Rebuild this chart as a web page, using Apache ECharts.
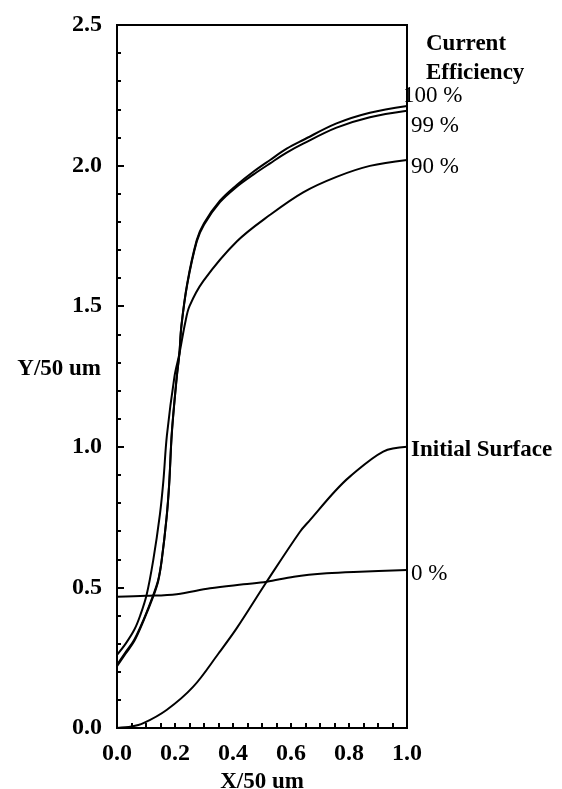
<!DOCTYPE html>
<html lang="en">
<head>
    <meta charset="UTF-8">
    <title>Current Efficiency</title>
    <style>
        body { margin: 0; background: #fff; }
        #chart { width: 562px; height: 789px; }
    </style>
</head>
<body>
    <div id="chart"></div>

    <script src="https://cdn.jsdelivr.net/npm/echarts@6/dist/echarts.min.js"></script>
    <script>
        // profiles (X/50 um, Y/50 um)
        var x100 = [0, 0.03, 0.059, 0.091, 0.125, 0.142, 0.154, 0.171, 0.18, 0.189, 0.206, 0.215, 0.222, 0.242, 0.275, 0.3, 0.355, 0.413, 0.47, 0.528, 0.585, 0.642, 0.757, 0.872, 1.0];
        var y100 = [0.225, 0.27, 0.313, 0.384, 0.473, 0.526, 0.597, 0.75, 0.87, 1.05, 1.249, 1.33, 1.43, 1.58, 1.735, 1.795, 1.875, 1.931, 1.978, 2.02, 2.06, 2.091, 2.15, 2.188, 2.212];

        var x99 = [0, 0.03, 0.059, 0.091, 0.125, 0.142, 0.154, 0.171, 0.18, 0.189, 0.206, 0.215, 0.222, 0.242, 0.275, 0.3, 0.355, 0.413, 0.47, 0.528, 0.585, 0.642, 0.757, 0.872, 1.0];
        var y99 = [0.22, 0.265, 0.308, 0.38, 0.468, 0.522, 0.594, 0.747, 0.867, 1.047, 1.246, 1.33, 1.428, 1.576, 1.73, 1.79, 1.87, 1.925, 1.968, 2.008, 2.046, 2.078, 2.135, 2.172, 2.195];

        var x90 = [0, 0.03, 0.06, 0.08, 0.102, 0.125, 0.148, 0.16, 0.172, 0.198, 0.215, 0.235, 0.25, 0.298, 0.413, 0.528, 0.642, 0.757, 0.872, 1.0];
        var y90 = [0.26, 0.3, 0.35, 0.4, 0.473, 0.597, 0.76, 0.88, 1.04, 1.249, 1.33, 1.44, 1.5, 1.59, 1.73, 1.825, 1.905, 1.96, 1.999, 2.02];

        var x0 = [0, 0.1, 0.206, 0.321, 0.436, 0.516, 0.61, 0.723, 0.838, 1.0];
        var y0 = [0.467, 0.47, 0.476, 0.497, 0.511, 0.52, 0.538, 0.55, 0.556, 0.562];

        var xInit = [0, 0.05, 0.091, 0.171, 0.263, 0.35, 0.413, 0.516, 0.631, 0.666, 0.75, 0.803, 0.918, 1.0];
        var yInit = [0, 0.005, 0.017, 0.064, 0.147, 0.265, 0.355, 0.52, 0.698, 0.74, 0.84, 0.894, 0.983, 1.0];

        var names = ['100 %', '99 %', '90 %', 'Initial Surface', '0 %'];
        var labelOffsets = [[-4, -10], [4, 15], [4, 7], [4, 3], [4, 4]];
        var labelBold = [false, false, false, true, false];

        function pairs(xs, ys) {
            var out = [];
            for (let i = 0; i < xs.length; i++) {
                out.push([xs[i], ys[i]]);
            }
            return out;
        }

        var serif = 'Liberation Serif';
        var curves = [pairs(x100, y100), pairs(x99, y99), pairs(x90, y90), pairs(xInit, yInit), pairs(x0, y0)];

        var series = [];
        for (let i = 0; i < curves.length; i++) {
            series.push({
                name: names[i],
                type: 'line',
                data: curves[i],
                showSymbol: false,
                smooth: 0.35,
                lineStyle: { color: '#000', width: 2 },
                endLabel: {
                    show: true,
                    formatter: names[i],
                    distance: 0,
                    offset: labelOffsets[i],
                    color: '#000',
                    fontFamily: serif,
                    fontSize: 23,
                    fontWeight: labelBold[i] ? 'bold' : 'normal'
                },
                z: 3
            });
        }

        var myChart = echarts.init(document.getElementById('chart'));
        var option = {
            animation: false,
            backgroundColor: '#fff',
            title: {
                text: 'Current\nEfficiency',
                left: 421,
                top: 25,
                textStyle: {
                    fontFamily: serif,
                    fontSize: 23,
                    fontWeight: 'bold',
                    color: '#000',
                    lineHeight: 29
                }
            },
            grid: {
                left: 117, right: 155, top: 25, bottom: 61,
                containLabel: false,
                outerBoundsMode: 'none',
                show: true,
                borderColor: '#000',
                borderWidth: 2
            },
            xAxis: {
                type: 'value',
                min: 0, max: 1, interval: 0.2,
                name: 'X/50 um',
                nameLocation: 'middle',
                nameGap: 40,
                nameTextStyle: { fontFamily: serif, fontSize: 23, fontWeight: 'bold', color: '#000' },
                axisLine: { lineStyle: { color: '#000', width: 2 } },
                axisTick: { inside: true, length: 5, lineStyle: { color: '#000', width: 2 } },
                minorTick: { show: true, splitNumber: 4, length: 5, lineStyle: { color: '#000', width: 2 } },
                splitLine: { show: false },
                axisLabel: {
                    margin: 14,
                    fontFamily: serif, fontSize: 24, fontWeight: 'bold', color: '#000',
                    formatter: function (v) { return v.toFixed(1); }
                }
            },
            yAxis: {
                type: 'value',
                min: 0, max: 2.5, interval: 0.5,
                axisLine: { show: true, lineStyle: { color: '#000', width: 2 } },
                axisTick: { show: true, inside: true, length: 7, lineStyle: { color: '#000', width: 2 } },
                minorTick: { show: true, splitNumber: 5, length: 4, lineStyle: { color: '#000', width: 2 } },
                splitLine: { show: false },
                axisLabel: {
                    margin: 15,
                    fontFamily: serif, fontSize: 24, fontWeight: 'bold', color: '#000',
                    formatter: function (v) { return v.toFixed(1); }
                }
            },
            graphic: [{
                type: 'text',
                right: 562 - 101,
                top: 358,
                style: {
                    text: 'Y/50 um',
                    fill: '#000',
                    font: 'bold 23px "Liberation Serif"'
                }
            }],
            series: series
        };
        myChart.setOption(option);
    </script>
</body>
</html>
